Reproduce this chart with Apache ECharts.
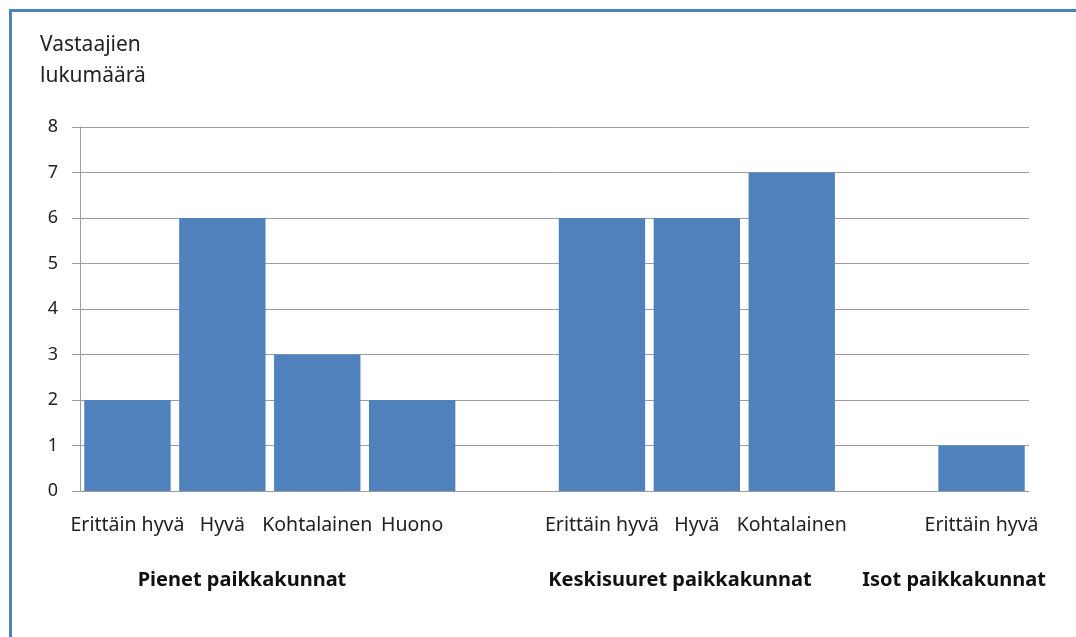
<!DOCTYPE html>
<html>
<head>
<meta charset="utf-8">
<script src="https://cdn.jsdelivr.net/npm/echarts@6/dist/echarts.min.js"></script>
<style>
  html, body { margin: 0; padding: 0; background: #fff; }
  #chart { width: 1076px; height: 637px; }
</style>
</head>
<body>
<div id="chart"></div>
<script>
// luokat (tyhjät välit ryhmien välissä)
var categories = ["Erittäin hyvä", "Hyvä", "Kohtalainen", "Huono", "", "Erittäin hyvä", "Hyvä", "Kohtalainen", "", "Erittäin hyvä"];
var values = [2, 6, 3, 2, null, 6, 6, 7, null, 1];
var groups = ["Pienet paikkakunnat", "Keskisuuret paikkakunnat", "Isot paikkakunnat"];
var yTitle = "Vastaajien\nlukumäärä";

var font = "Noto Sans";
var groupFont = "bold 20px 'Noto Sans'";
var myChart = echarts.init(document.getElementById("chart"));
myChart.setOption({
  animation: false,
  grid: { left: 80, right: 47, top: 127, bottom: 146 },
  title: {
    text: yTitle,
    left: 35,
    top: 25,
    textStyle: { fontFamily: font, fontSize: 21, fontWeight: "normal", color: "#222", lineHeight: 31 }
  },
  graphic: [
    { type: "rect", left: 9, top: 9, shape: { width: 1080, height: 3 }, style: { fill: "#4F81BD" } },
    { type: "rect", left: 9, top: 9, shape: { width: 3, height: 640 }, style: { fill: "#4F81BD" } },
    { type: "text", x: 242, y: 580, style: { text: groups[0], align: "center", verticalAlign: "middle", font: groupFont, fill: "#111" } },
    { type: "text", x: 680, y: 580, style: { text: groups[1], align: "center", verticalAlign: "middle", font: groupFont, fill: "#111" } },
    { type: "text", x: 954, y: 580, style: { text: groups[2], align: "center", verticalAlign: "middle", font: groupFont, fill: "#111" } }
  ],
  xAxis: {
    type: "category",
    data: categories,
    axisLine: { lineStyle: { color: "#9c9c9c" } },
    axisTick: { length: 6, lineStyle: { color: "#9c9c9c" } },
    axisLabel: { interval: 0, margin: 24, fontFamily: font, fontSize: 19.5, color: "#222" }
  },
  yAxis: {
    type: "value",
    min: 0,
    max: 8,
    interval: 1,
    axisLine: { show: true, lineStyle: { color: "#9c9c9c" } },
    axisTick: { show: true, length: 8, lineStyle: { color: "#9c9c9c" } },
    splitLine: { lineStyle: { color: "#9c9c9c" } },
    axisLabel: { margin: 22, fontFamily: font, fontSize: 18, color: "#222" }
  },
  series: [
    {
      type: "bar",
      data: values,
      barCategoryGap: "9%",
      itemStyle: { color: "#4F81BD" }
    }
  ]
});
</script>
</body>
</html>
